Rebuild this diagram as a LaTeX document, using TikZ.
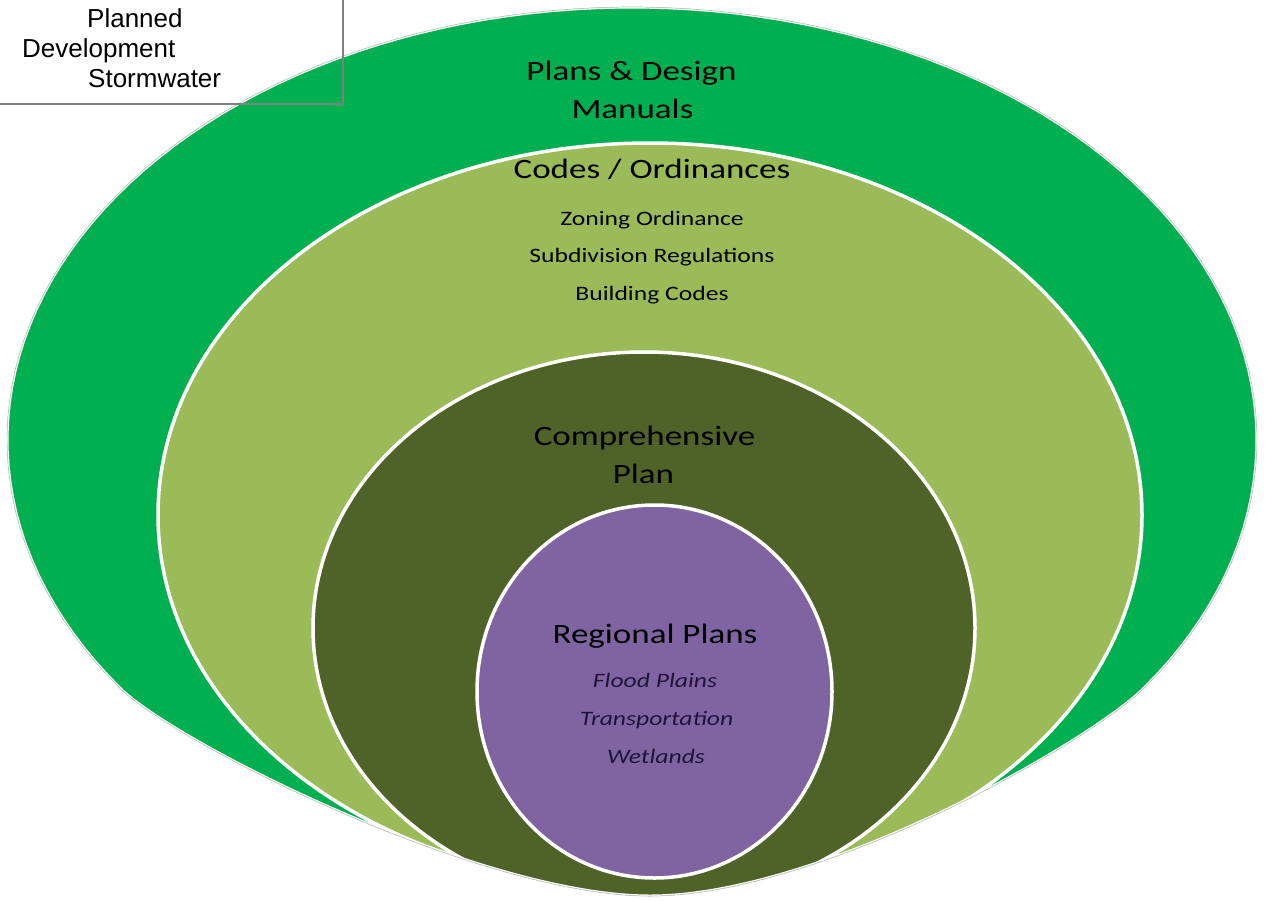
\documentclass[tikz,border=0pt]{standalone}
\usepackage{fontspec}
\setmainfont{Carlito}
\newfontfamily\arialfont{Liberation Sans}
\usepackage{graphicx}
\definecolor{outergreen}{RGB}{0,176,80}
\definecolor{codegreen}{RGB}{155,187,89}
\definecolor{compolive}{RGB}{79,98,40}
\definecolor{regpurple}{RGB}{128,100,162}
\definecolor{italictext}{RGB}{30,20,56}
\definecolor{boxgray}{RGB}{128,128,128}
\newcommand\widetext[1]{\scalebox{1.25}[1]{#1}}
\newcommand\myouterpath{plot[domain=145:395,samples=120] ({632+625*cos(\x)},{440+433*sin(\x)})
  .. controls (1087,744) and (820,896) .. (650,896) .. controls (480,896) and (177,744) .. (120,688.4) -- cycle}
\begin{document}
\begin{tikzpicture}[x=1pt,y=-1pt,
  ring/.style={draw=white,line width=3.5pt},
  head/.style={anchor=base,inner sep=0pt,font=\fontsize{28}{34}\selectfont,text=black},
  sub/.style={anchor=base,inner sep=0pt,font=\fontsize{20.5}{24}\selectfont,text=black},
  ital/.style={anchor=base,inner sep=0pt,font=\fontsize{20.5}{24}\selectfont\itshape,text=italictext},
  boxtext/.style={anchor=base west,inner sep=0pt,font=\arialfont\fontsize{26}{30}\selectfont,text=black},
  boxline/.style={draw=boxgray,line width=1.1pt}]
\useasboundingbox (0,0) rectangle (1266,900);
\fill[white] (0,0) rectangle (1266,900);
\begin{scope}
  \clip \myouterpath;
  \fill[outergreen] \myouterpath;
  \draw[ring,fill=codegreen] (650,515) ellipse[x radius=492, y radius=372];
  \draw[ring,fill=compolive] (644,628) ellipse[x radius=331, y radius=276];
  \draw[ring,fill=regpurple] (654.5,691.5) ellipse[x radius=177.5, y radius=186.5];
  \draw[white,line width=3pt] \myouterpath;
\end{scope}
\draw[gray!45,line width=0.7pt] \myouterpath;

% top-left box
\coordinate (boxtr) at (343,-2);
\coordinate (boxbr) at (343,104);
\coordinate (boxbl) at (-2,104);
\draw[boxline] (boxtr) -- (boxbr) -- (boxbl);
\node[boxtext] (planned) at (87,27) {Planned};
\node[boxtext] (development) at (22,57) {Development};
\node[boxtext] (stormwater) at (88,87) {Stormwater};

% labels
\node[head] (plans) at (631.5,80) {\widetext{Plans \& Design}};
\node[head] (manuals) at (632.5,118) {\widetext{Manuals}};
\node[head] (codes) at (652,178) {\widetext{Codes / Ordinances}};
\node[sub] (zoning) at (652,225) {\widetext{Zoning Ordinance}};
\node[sub] (subdiv) at (652,262) {\widetext{Subdivision Regulations}};
\node[sub] (building) at (652,300) {\widetext{Building Codes}};
\node[head] (comp) at (644.5,445) {\widetext{Comprehensive}};
\node[head] (plan) at (643.5,483) {\widetext{Plan}};
\node[head] (regional) at (655,643) {\widetext{Regional Plans}};
\node[ital] (flood) at (655,687) {\widetext{Flood Plains}};
\node[ital] (transport) at (656.5,725) {\widetext{Transportation}};
\node[ital] (wetlands) at (656,763) {\widetext{Wetlands}};
\end{tikzpicture}
\end{document}
